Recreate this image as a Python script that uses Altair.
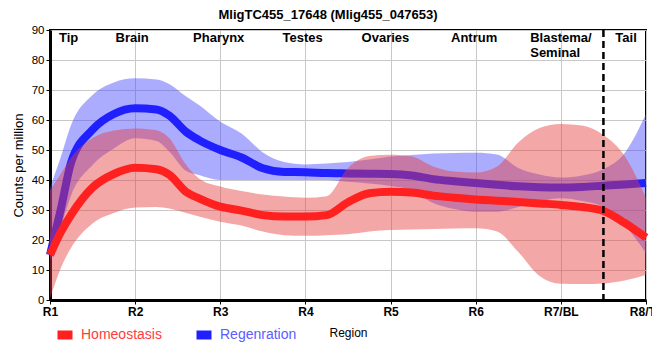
import json
import altair as alt
import pandas as pd

# ---------------- data ----------------
x_pos = [1, 1.125, 1.25, 1.5, 1.75, 2, 2.25, 2.4, 2.6, 2.75, 3, 3.25, 3.5, 3.75, 4,
         4.25, 4.5, 4.75, 5, 5.25, 5.5, 5.75, 6, 6.25, 6.5, 6.75, 7, 7.25, 7.5, 7.75, 8]

homeo_mid = [15, 22.5, 28.5, 37.5, 42, 44.1, 43.6, 41.8, 36, 33.9, 31.1, 29.8, 28.3, 27.8, 27.8,
             28.3, 32.6, 35.6, 36.1, 35.8, 34.8, 34.1, 33.5, 33.1, 32.7, 32.2, 31.7, 31, 29.7, 25.7, 20.8]
homeo_lo = [0.5, 10.5, 17.5, 25.5, 29, 30.8, 31, 30.5, 29, 27.8, 26.1, 24.8, 22.8, 21.6, 21.4,
            21.6, 21.9, 22.8, 23.3, 23.5, 23.7, 23.8, 23.9, 22.8, 16, 8, 5.4, 5.3, 5.5, 6.5, 8.3]
homeo_hi = [36.5, 42, 47.5, 54, 56.5, 57.2, 56.6, 54, 45, 40.5, 37.8, 36.3, 35.2, 34.5, 34.1,
            34.6, 44, 48, 48.4, 47.8, 44.5, 42.8, 42.5, 44.5, 52.5, 57.3, 58.7, 58.2, 55, 48, 34]

regen_mid = [15, 30, 46, 56.8, 62, 63.9, 63.5, 61.5, 56, 53.3, 50, 47.5, 43.9, 42.7, 42.6,
             42.3, 42.2, 42.1, 42, 41.5, 40.3, 39.6, 39, 38.4, 37.9, 37.6, 37.5, 37.7, 38.1, 38.5, 39]
regen_lo = [13, 24, 35, 45, 50.5, 53.9, 53, 49.5, 43, 41.7, 40, 40, 40, 40, 40,
            40, 39.4, 38.8, 38, 36.5, 32.3, 30.3, 29.4, 29.4, 31, 32.8, 33.9, 33, 31, 25, 15.6]
regen_hi = [37.5, 47.5, 58.5, 68.3, 72.5, 73.9, 73.5, 72, 67.8, 65, 59.4, 55.5, 49.2, 46, 45.2,
            45.5, 46, 46.8, 47.8, 48.3, 48.8, 49, 49.1, 48.5, 44, 41.8, 40.8, 41.5, 43.6, 49, 62]

series_names = ["Homeostasis", "Regenration"]
tick_values = [1, 2, 3, 4, 5, 6, 7, 8]
tick_labels = ["R1", "R2", "R3", "R4", "R5", "R6", "R7/BL", "R8/TL"]
y_ticks = [0, 10, 20, 30, 40, 50, 60, 70, 80, 90]

region_names = ["Tip", "Brain", "Pharynx", "Testes", "Ovaries", "Antrum", "Blastema/\nSeminal", "Tail"]
region_x = [1.105, 1.77, 2.68, 3.73, 4.66, 5.71, 6.64, 7.64]
region_y = [89.3] * len(region_names)
divider_x = [7.5]

title_text = "MligTC455_17648 (Mlig455_047653)"

# ---------------- tables ----------------
df = pd.concat([
    pd.DataFrame({"x": x_pos, "mid": homeo_mid, "lo": homeo_lo, "hi": homeo_hi, "series": series_names[0]}),
    pd.DataFrame({"x": x_pos, "mid": regen_mid, "lo": regen_lo, "hi": regen_hi, "series": series_names[1]}),
], ignore_index=True)
regions = pd.DataFrame({"name": region_names, "x": region_x, "y": region_y})
divider = pd.DataFrame({"x": divider_x})

FONT = "Liberation Sans"
line_colors = ["#ff2020", "#2020ff"]
band_colors = {"Homeostasis": "#e63c3c", "Regenration": "#4646ff"}

xscale = alt.Scale(domain=[1, 8], nice=False, zero=False)
yscale = alt.Scale(domain=[0, 90], nice=False, zero=True)

label_expr = json.dumps(tick_labels) + "[datum.value - 1]"

x_axis = alt.Axis(values=tick_values, labelExpr=label_expr, labelFontWeight="bold",
                  labelFontSize=12, titleFontSize=12, titleFontWeight="normal",
                  titlePadding=10, tickSize=4, labelPadding=2, labelFlush=False,
                  labelOverlap=False)
y_axis = alt.Axis(values=y_ticks, tickCount=10, labelFontSize=11.5, titleFontSize=13,
                  titleFontWeight="normal", titlePadding=6, tickSize=4, labelPadding=2,
                  labelOverlap=False, labelFlush=False)


def X():
    return alt.X("x:Q", scale=xscale, title="Region", axis=x_axis)


def Y(field):
    return alt.Y(field, scale=yscale, axis=y_axis, title="Counts per million")


legend = alt.Legend(orient="none", legendX=3, legendY=293, direction="horizontal", title=None,
                    symbolType="stroke", symbolSize=225, symbolStrokeWidth=9, symbolOpacity=1,
                    labelFontSize=14, labelOffset=4, columnPadding=16, labelFont=FONT,
                    labelColor={"expr": "datum.label == 'Homeostasis' ? '#ff3c3c' : '#5c5cff'"})
color_enc = alt.Color("series:N", scale=alt.Scale(domain=series_names, range=line_colors), legend=legend)

base = alt.Chart(df)


def band(name):
    return base.transform_filter(alt.datum.series == name).mark_area(
        interpolate="monotone", color=band_colors[name], opacity=0.45
    ).encode(x=X(), y=Y("lo:Q"), y2="hi:Q")


def line(name):
    return base.transform_filter(alt.datum.series == name).mark_line(
        interpolate="monotone", strokeWidth=8
    ).encode(x=X(), y=Y("mid:Q"), color=color_enc)


rule = alt.Chart(divider).mark_rule(color="black", strokeWidth=2.5, strokeDash=[7, 4]).encode(x=X())

labels = alt.Chart(regions).mark_text(
    align="left", baseline="top", fontSize=13, fontWeight="bold", font=FONT,
    lineBreak="\n", lineHeight=14.5, color="black"
).encode(x=X(), y=Y("y:Q"), text="name:N")

chart = alt.layer(
    band("Regenration"), line("Regenration"), band("Homeostasis"), line("Homeostasis"), rule, labels
).properties(
    width=596, height=270,
    padding={"left": 42, "top": 22, "right": 6, "bottom": 50},
    autosize=alt.AutoSizeParams(type="none"),
    title=alt.Title(title_text, fontSize=13, fontWeight="bold", font=FONT, anchor="middle",
                    dx=-20, offset=2),
).configure(font=FONT).configure_axis(
    gridColor="#c8c8c8", gridWidth=1, domainColor="black", domainWidth=3, tickColor="black",
    labelColor="black", titleColor="black", labelFont=FONT, titleFont=FONT
).configure_view(stroke="black", strokeWidth=2)

chart.save("out.html", embed_options={"renderer": "svg", "actions": False})
